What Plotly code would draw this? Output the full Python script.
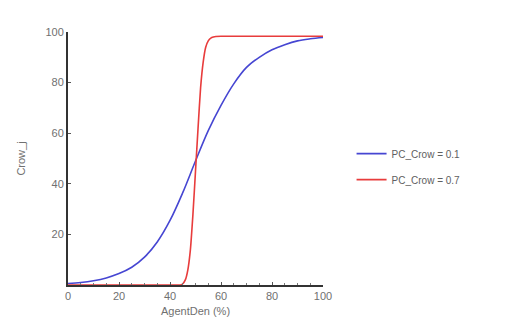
import plotly.graph_objects as go

x_blue = [0, 5, 10, 15, 20, 25, 30, 35, 40, 45, 50, 55, 60, 65, 70, 75, 80, 85, 90, 95, 100]
y_blue = [0.6, 1.0, 1.7, 2.8, 4.5, 7.0, 11, 17, 25.5, 36.5, 49, 61, 71, 79.5, 86, 90, 93, 95, 96.5, 97.3, 97.8]

x_red = [0, 40, 44, 45, 46, 47, 48, 49, 50, 51, 52, 53, 54, 55, 56, 57, 58, 60, 70, 80, 90, 100]
y_red = [0, 0, 0, 0.5, 2, 6, 14, 28, 45, 62, 78, 88, 94, 96.5, 97.6, 98.0, 98.2, 98.3, 98.3, 98.3, 98.3, 98.3]

names = ["PC_Crow = 0.1", "PC_Crow = 0.7"]
colors = ["#4646d2", "#e83c3c"]

fig = go.Figure()
fig.add_trace(go.Scatter(x=x_blue, y=y_blue, mode="lines", name=names[0], legendgroup="a",
                         line=dict(color=colors[0], width=1.6, shape="spline", smoothing=1)))
fig.add_trace(go.Scatter(x=x_red, y=y_red, mode="lines", name=names[1], legendgroup="b",
                         line=dict(color=colors[1], width=1.6, shape="spline", smoothing=0.5)))

fig.update_layout(
    width=512, height=327,
    margin=dict(l=56, r=197, t=24, b=50),
    paper_bgcolor="white", plot_bgcolor="white",
    font=dict(family="Liberation Sans, Arial, sans-serif", size=11, color="#707070"),
    legend=dict(x=1.112, y=0.468, xanchor="left", yanchor="middle",
                font=dict(size=10, color="#606060"), tracegroupgap=7,
                bgcolor="rgba(0,0,0,0)"),
    xaxis=dict(range=[0, 100], tickvals=[0, 20, 40, 60, 80, 100],
               showgrid=False, zeroline=False, showline=True, linecolor="#333333", linewidth=2,
               ticks="inside", ticklen=3, tickcolor="#555555",
               minor=dict(ticks="inside", ticklen=2, dtick=5, tickcolor="#777777"),
               title=dict(text="AgentDen (%)", font=dict(size=11, color="#707070"), standoff=6)),
    yaxis=dict(range=[0, 100], tickvals=[20, 40, 60, 80, 100],
               showgrid=False, zeroline=False, showline=True, linecolor="#333333", linewidth=2,
               ticks="inside", ticklen=3, tickcolor="#555555", ticklabelstandoff=0,
               title=dict(text="Crow_j", font=dict(size=11, color="#707070"), standoff=18)),
)

fig.write_html("out.html")
